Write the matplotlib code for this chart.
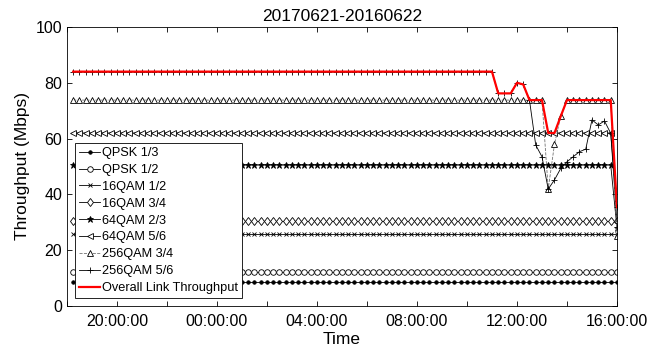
import numpy as np
import pandas as pd
import matplotlib
matplotlib.use('Agg')
import matplotlib.pyplot as plt
import matplotlib.dates as mdates

plt.rcParams['font.family'] = ['Liberation Sans', 'DejaVu Sans']

# 15 minute samples, last one at 16:00
n_samples = 88
t_end = '2017-06-22 16:00'

mcs_names = ['QPSK 1/3', 'QPSK 1/2', '16QAM 1/2', '16QAM 3/4',
             '64QAM 2/3', '64QAM 5/6', '256QAM 3/4', '256QAM 5/6']
mcs_levels = [8.5, 12.1, 25.7, 30.6, 50.5, 62.0, 73.8, 84.0]

# values from sample 67 (about 10:45) to the end
tail_start = 67
tail_64qam_23 = [50.5] * 20 + [28.0]
tail_64qam_56 = [62.0] * 20 + [30.0]
tail_256qam_34 = [73.8] * 9 + [41.9, 58.0, 68.0] + [73.8] * 8 + [25.0]
tail_256qam_56 = [84.0, 76.2, 76.2, 76.2, 80.0, 79.4, 73.8, 57.7, 53.5, 41.9,
                  45.2, 49.3, 51.7, 53.5, 55.3, 56.2, 66.7, 64.9, 66.3, 61.9, 35.4]

times = pd.date_range(end=t_end, periods=n_samples, freq='15min')

series = []
for lvl in mcs_levels:
    series.append(np.full(n_samples, lvl))
series[4][tail_start:] = tail_64qam_23
series[5][tail_start:] = tail_64qam_56
series[6][tail_start:] = tail_256qam_34
series[7][tail_start:] = tail_256qam_56
overall = np.max(np.vstack(series), axis=0)

markers = ['o', 'o', 'x', 'd', '*', '<', '^', '+']
msizes = [2.5, 4, 3.5, 4.5, 4.5, 4.5, 4.5, 5]
mfcs = ['k', 'white', 'k', 'white', 'k', 'white', 'white', 'k']

fig = plt.figure(figsize=(6.67, 3.57), dpi=100)
ax = fig.add_axes([0.1004, 0.1429, 0.8246, 0.7815])

for i in range(8):
    ls = '--' if i == 6 else '-'
    col = '0.45' if i == 6 else 'k'
    ax.plot(times, series[i], linestyle=ls, color=col, lw=0.6,
            marker=markers[i], markersize=msizes[i], markerfacecolor=mfcs[i],
            markeredgecolor='k', markeredgewidth=0.6, label=mcs_names[i])

ax.plot(times, overall, color='red', lw=1.6, label='Overall Link Throughput', zorder=5)

ax.set_xlim(pd.Timestamp('2017-06-21 18:00'), pd.Timestamp('2017-06-22 16:00'))
ax.set_ylim(0, 100)
ax.set_yticks([0, 20, 40, 60, 80, 100])
ax.xaxis.set_major_locator(mdates.HourLocator(byhour=[0, 4, 8, 12, 16, 20]))
ax.xaxis.set_minor_locator(mdates.HourLocator(byhour=range(0, 24, 2)))
ax.xaxis.set_major_formatter(mdates.DateFormatter('%H:%M:%S'))
ax.tick_params(which='both', direction='in', top=True, right=True, length=3.5,
               width=0.6, labelsize=11.5, colors='k')
ax.tick_params(axis='x', pad=6)
for s in ax.spines.values():
    s.set_linewidth(0.6)

ax.set_title('20170621-20160622', fontsize=12.5, pad=4)
ax.set_xlabel('Time', fontsize=12.5, labelpad=2)
ax.set_ylabel('Throughput (Mbps)', fontsize=12.5)

leg = ax.legend(loc='lower left', bbox_to_anchor=(0.0145, 0.029), borderaxespad=0,
                fontsize=9.2, handlelength=1.7, handletextpad=0.15, labelspacing=0.38,
                fancybox=False, edgecolor='k', framealpha=1, borderpad=0.3)
leg.get_frame().set_linewidth(0.6)

fig.savefig('out.png', dpi=100)
